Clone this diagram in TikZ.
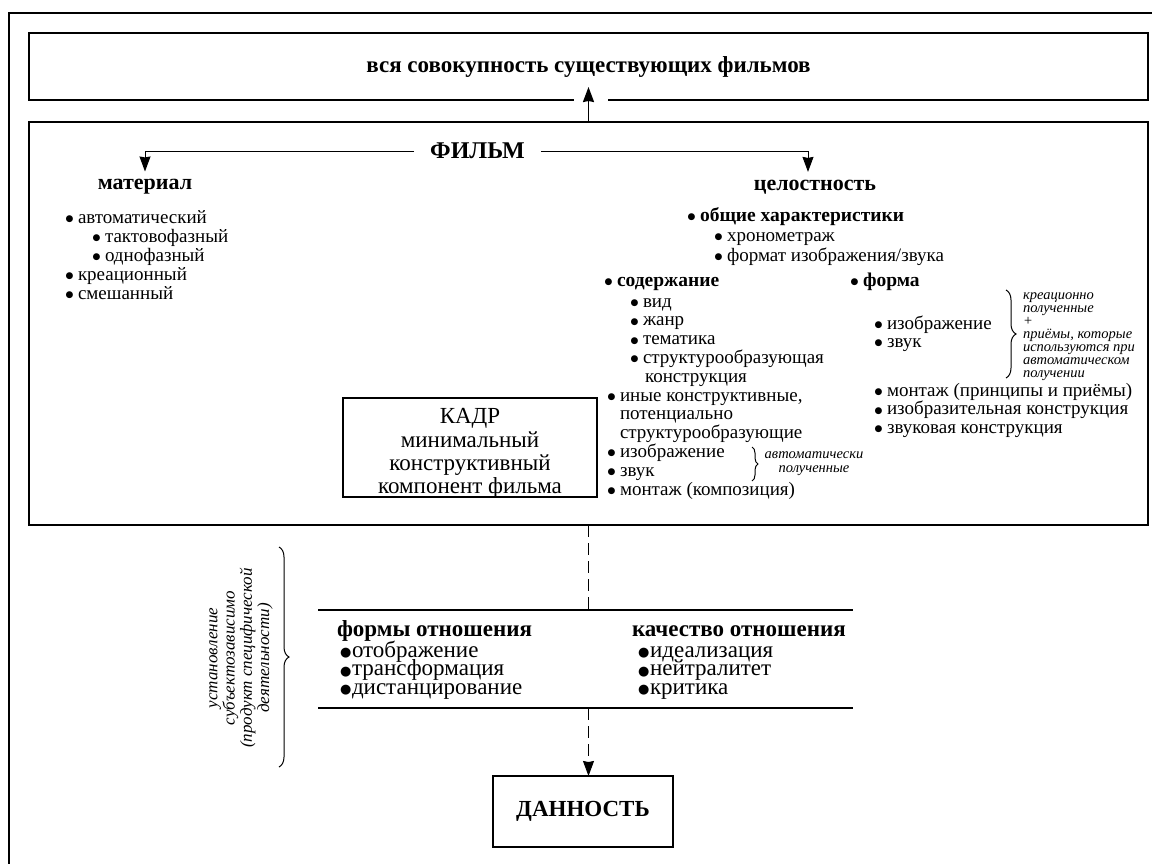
\documentclass[tikz,border=0pt]{standalone}
\usepackage{fontspec}
\setmainfont{Liberation Serif}
\newfontfamily\symfont{DejaVu Sans}
\usetikzlibrary{arrows.meta,decorations.pathreplacing,calc}

% list bullets: small one for the film lists, round one for the relation lists
\newcommand\bul{\makebox[10pt][l]{\hspace*{-2.5pt}\raisebox{1.5pt}{\symfont\fontsize{9}{9}\selectfont ●}}}
\newcommand\bigbul{\makebox[12pt][l]{\raisebox{0.5pt}{\symfont\fontsize{13}{13}\selectfont ●}}}

\begin{document}
\begin{tikzpicture}[x=1pt,y=-1pt,
  every node/.style={inner sep=0pt, outer sep=0pt},
  frameline/.style={line width=2pt},
  bigbox/.style={draw, line width=1.8pt},
  thinbox/.style={draw, line width=1.3pt},
  head/.style={font=\fontsize{23}{26}\selectfont\bfseries},
  li/.style={font=\fontsize{19}{19}\selectfont, anchor=base west},
  lib/.style={font=\fontsize{19.5}{19}\selectfont\bfseries, anchor=base west},
  note/.style={font=\fontsize{14.5}{13}\selectfont\itshape, anchor=base west},
  rel/.style={font=\fontsize{23}{23}\selectfont, anchor=base west},
  relh/.style={font=\fontsize{23}{23}\selectfont\bfseries, anchor=base west},
  kline/.style={font=\fontsize{23}{23}\selectfont, anchor=base},
  arr/.style={-{Stealth[length=15pt,width=11pt,inset=1pt]}},
  conn/.style={line width=1pt},
  dashline/.style={line width=1pt, dash pattern=on 12pt off 6pt},
  bracel/.style={decorate, line width=1pt},
]
\fill[white] (0,0) rectangle (1152,863);
\useasboundingbox (0,0) rectangle (1152,863);

% outer frame
\draw[frameline] (9,864) -- (9,13) -- (1153,13);

% top box and film box
\node[bigbox, head, minimum width=1119pt, minimum height=67pt] (top) at (588.5,66.5)
  {вся совокупность существующих фильмов};
\node[bigbox, minimum width=1119pt, minimum height=403pt] (film) at (588.5,323.5) {};

\fill[white] ([xshift=-15pt,yshift=-2pt]top.south) rectangle ([xshift=19pt,yshift=2pt]top.south);
\draw[line width=1.8pt, arr] (film.north) -- ([yshift=13pt]top.south);

% film header and its two branches
\node[head, font=\fontsize{24}{24}\selectfont\bfseries, inner xsep=16pt] (filmlbl) at (477.5,151) {ФИЛЬМ};
\node[head, font=\fontsize{22}{22}\selectfont\bfseries] (mat) at (145,187) {материал};
\node[head, font=\fontsize{22}{22}\selectfont\bfseries] (whole) at (815,187) {целостность};
\draw[conn, arr] (filmlbl.west) -| ([yshift=8pt]mat.north);
\draw[conn, arr] (filmlbl.east) -| ([xshift=-7pt,yshift=8pt]whole.north);

% material list
\node[li] (m1) at (68,223) {\bul автоматический};
\node[li] (m2) at (95,242) {\bul тактовофазный};
\node[li] (m3) at (95,261) {\bul однофазный};
\node[li] (m4) at (68,280) {\bul креационный};
\node[li] (m5) at (68,299) {\bul смешанный};

% wholeness: general characteristics
\node[lib] (g0) at (690,221) {\bul общие характеристики};
\node[li] (g1) at (717,241) {\bul хронометраж};
\node[li] (g2) at (717,261) {\bul формат изображения/звука};

% content
\node[lib] (c0) at (607,286) {\bul содержание};
\node[li] (c1) at (633,307) {\bul вид};
\node[li] (c2) at (633,325.8) {\bul жанр};
\node[li] (c3) at (633,344.6) {\bul тематика};
\node[li] (c4) at (633,363.4) {\bul структурообразующая};
\node[li] (c4b) at (645,382.2) {конструкция};
\node[li] (c5) at (610,401) {\bul иные конструктивные,};
\node[li] (c5b) at (620,419.8) {потенциально};
\node[li] (c5c) at (620,438.6) {структурообразующие};
\node[li] (c6) at (610,457.4) {\bul изображение};
\node[li] (c7) at (610,476.2) {\bul звук};
\node[li] (c8) at (610,495) {\bul монтаж (композиция)};
\draw[bracel, decoration={brace, amplitude=6pt}] (752,447) -- (752,481);
\node[font=\fontsize{14.5}{14}\selectfont\itshape, align=center] (autonote) at (814,464)
  {автоматически\\полученные};

% form
\node[lib] (f0) at (853,286) {\bul форма};
\node[li] (f1) at (877,329) {\bul изображение};
\node[li] (f2) at (877,347) {\bul звук};
\draw[bracel, decoration={brace, amplitude=10pt}] (1006,290) -- (1006,378);
\node[note] (n1) at (1023,299) {креационно};
\node[note] (n2) at (1023,312) {полученные};
\node[note] (n3) at (1023,325) {+};
\node[note] (n4) at (1023,338) {приёмы, которые};
\node[note] (n5) at (1023,351) {используются при};
\node[note] (n6) at (1023,364) {автоматическом};
\node[note] (n7) at (1023,377) {получении};
\node[li] (f3) at (877,396) {\bul монтаж (принципы и приёмы)};
\node[li] (f4) at (877,414.5) {\bul изобразительная конструкция};
\node[li] (f5) at (877,433) {\bul звуковая конструкция};

% frame box
\node[thinbox, minimum width=254pt, minimum height=99pt] (kadr) at (470,447.5) {};
\node[kline] (k1) at (470,423.5) {КАДР};
\node[kline] (k2) at (470,447) {минимальный};
\node[kline] (k3) at (470,470.5) {конструктивный};
\node[kline] (k4) at (470,493.5) {компонент фильма};

% relation block
\coordinate (rt1) at (318,610);
\coordinate (rt2) at (853,610);
\coordinate (rb1) at (318,708);
\coordinate (rb2) at (853,708);
\draw[line width=1.3pt] (rt1) -- (rt2);
\draw[line width=1.3pt] (rb1) -- (rb2);
\node[relh] (r0) at (337,636) {формы отношения};
\node[rel] (r1) at (340,657) {\bigbul отображение};
\node[rel] (r2) at (340,675.5) {\bigbul трансформация};
\node[rel] (r3) at (340,694) {\bigbul дистанцирование};
\node[relh] (q0) at (632,636) {качество отношения};
\node[rel] (q1) at (638,657) {\bigbul идеализация};
\node[rel] (q2) at (638,675.5) {\bigbul нейтралитет};
\node[rel] (q3) at (638,694) {\bigbul критика};

% side note with brace
\draw[bracel, decoration={brace, amplitude=10pt}] (279,547) -- (279,767);
\node[rotate=90, align=center, font=\fontsize{17}{17.3}\selectfont\itshape] (est) at (241,658)
  {установление\\субъектозависимо\\(продукт специфической\\деятельности)};

% result box
\node[thinbox, head, minimum width=180pt, minimum height=71pt] (dan) at (583,811.5) {ДАННОСТЬ};
\draw[dashline] (film.south) -- (film.south |- rt1);
\draw[dashline, arr] (film.south |- rb1) -- (film.south |- dan.north);
\end{tikzpicture}
\end{document}
